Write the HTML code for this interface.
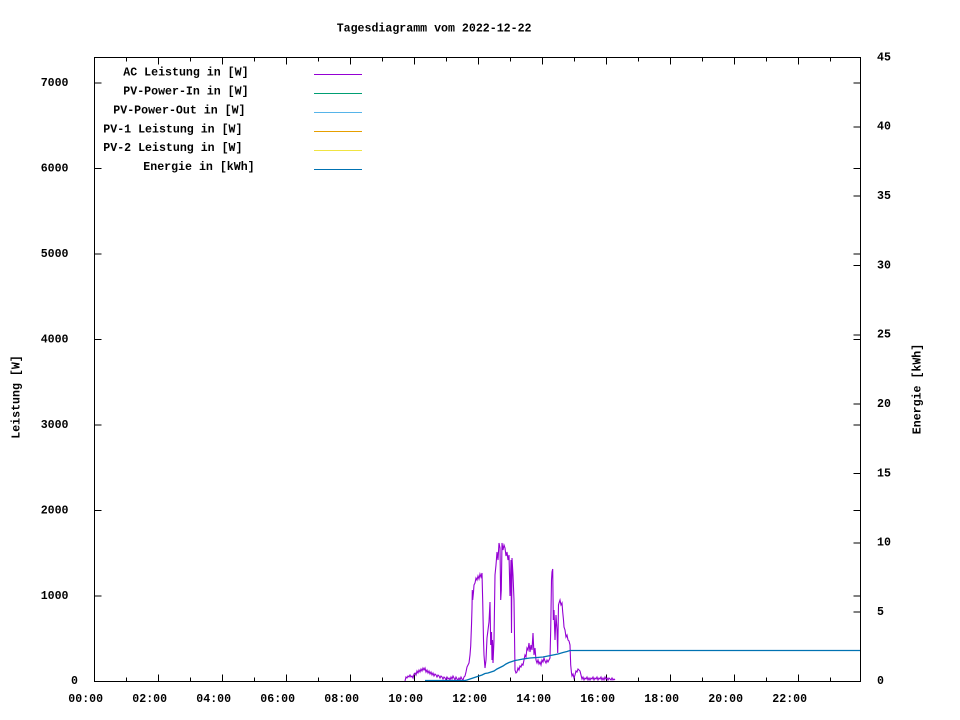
<!DOCTYPE html>
<html><head><meta charset="utf-8"><style>
html,body{margin:0;padding:0;background:#fff;}
svg{display:block;}
text{font-family:"Liberation Mono",monospace;font-weight:bold;font-size:11.6px;fill:#000;}
</style></head><body>
<svg width="960" height="720" viewBox="0 0 960 720" xmlns="http://www.w3.org/2000/svg">
<rect x="0" y="0" width="960" height="720" fill="#fff"/>
<text x="336.7" y="31.5">Tagesdiagramm vom 2022-12-22</text>

<!-- ticks -->
<g stroke="#000" stroke-width="1" shape-rendering="crispEdges" fill="none">
<!-- left y ticks + right mirror -->
<path d="M94.5 596h7M94.5 510.5h7M94.5 425h7M94.5 339.6h7M94.5 254.1h7M94.5 168.6h7M94.5 83.1h7"/>
<path d="M860.5 596h-7M860.5 510.5h-7M860.5 425h-7M860.5 339.6h-7M860.5 254.1h-7M860.5 168.6h-7M860.5 83.1h-7"/>
<!-- y2 ticks -->
<path d="M860.5 612.2h-7M860.5 542.8h-7M860.5 473.5h-7M860.5 404.2h-7M860.5 334.8h-7M860.5 265.5h-7M860.5 196.2h-7M860.5 126.8h-7"/>
<!-- x major ticks bottom/top -->
<path d="M158.5 681.5v-7M222.5 681.5v-7M286.5 681.5v-7M350.5 681.5v-7M414.5 681.5v-7M478.5 681.5v-7M542.5 681.5v-7M606.5 681.5v-7M670.5 681.5v-7M734.5 681.5v-7M798.5 681.5v-7"/>
<path d="M158.5 57.5v7M222.5 57.5v7M286.5 57.5v7M350.5 57.5v7M414.5 57.5v7M478.5 57.5v7M542.5 57.5v7M606.5 57.5v7M670.5 57.5v7M734.5 57.5v7M798.5 57.5v7"/>
<!-- x minor ticks -->
<path d="M126.5 681.5v-4M190.5 681.5v-4M254.5 681.5v-4M318.5 681.5v-4M382.5 681.5v-4M446.5 681.5v-4M510.5 681.5v-4M574.5 681.5v-4M638.5 681.5v-4M702.5 681.5v-4M766.5 681.5v-4M830.5 681.5v-4"/>
<path d="M126.5 57.5v4M190.5 57.5v4M254.5 57.5v4M318.5 57.5v4M382.5 57.5v4M446.5 57.5v4M510.5 57.5v4M574.5 57.5v4M638.5 57.5v4M702.5 57.5v4M766.5 57.5v4M830.5 57.5v4"/>
</g>

<!-- left labels -->
<text x="71" y="684">0</text>
<text x="40.7" y="599">1000</text>
<text x="40.7" y="513.5">2000</text>
<text x="40.7" y="428">3000</text>
<text x="40.7" y="342.6">4000</text>
<text x="40.7" y="257.1">5000</text>
<text x="40.7" y="171.6">6000</text>
<text x="40.7" y="86.1">7000</text>

<!-- right labels -->
<text x="877" y="684">0</text>
<text x="877" y="615">5</text>
<text x="877" y="545.6">10</text>
<text x="877" y="476.3">15</text>
<text x="877" y="407">20</text>
<text x="877" y="337.6">25</text>
<text x="877" y="268.3">30</text>
<text x="877" y="199">35</text>
<text x="877" y="129.6">40</text>
<text x="877" y="60.3">45</text>

<!-- x labels -->
<text x="68.3" y="702">00:00</text>
<text x="132.3" y="702">02:00</text>
<text x="196.3" y="702">04:00</text>
<text x="260.3" y="702">06:00</text>
<text x="324.3" y="702">08:00</text>
<text x="388.3" y="702">10:00</text>
<text x="452.3" y="702">12:00</text>
<text x="516.3" y="702">14:00</text>
<text x="580.3" y="702">16:00</text>
<text x="644.3" y="702">18:00</text>
<text x="708.3" y="702">20:00</text>
<text x="772.3" y="702">22:00</text>

<!-- axis titles -->
<text transform="translate(19.5,397) rotate(-90)" text-anchor="middle">Leistung [W]</text>
<text transform="translate(920.5,389) rotate(-90)" text-anchor="middle">Energie [kWh]</text>

<!-- legend -->
<text x="123.3" y="75.7">AC Leistung in [W]</text>
<text x="123.3" y="94.6">PV-Power-In in [W]</text>
<text x="113.3" y="113.4">PV-Power-Out in [W]</text>
<text x="103.3" y="132.3">PV-1 Leistung in [W]</text>
<text x="103.3" y="151.1">PV-2 Leistung in [W]</text>
<text x="143.3" y="170">Energie in [kWh]</text>
<g stroke-width="1" shape-rendering="crispEdges">
<path d="M314 74.5h48" stroke="#9400d3"/>
<path d="M314 93.5h48" stroke="#009e73"/>
<path d="M314 112.5h48" stroke="#56b4e9"/>
<path d="M314 131.5h48" stroke="#e69f00"/>
<path d="M314 150.5h48" stroke="#f0e442"/>
<path d="M314 169.5h48" stroke="#0072b2"/>
</g>

<!-- AC Leistung -->
<polyline fill="none" stroke="#9400d3" stroke-width="1.1" stroke-linejoin="miter" points="405,681 406,677 407,678 408,676 409,677 410,675 411,677 412,676 413,678 414,674 415,673 416,675 417,671 418,673 419,670 420,672 421,669 422,671 423,668 424,670 425,668 426,672 427,670 428,673 429,671 430,674 431,672 432,675 433,673 434,676 435,674 436,675 437,677 438,675 439,676 440,678 441,676 442,677 443,679 444,677 445,678 446,680 447,677 448,679 449,678 450,680 451,677 452,679 453,676 454,678 455,680 456,677 457,679 458,680 459,678 460,680 461,677 462,679 463,680 464,677 465,676 466,672 467,667 468,665 469,663 470,655 470.7,646 471.5,625 472,608 472.3,590 472.7,600 473.5,592 474,585 475,583 476,578 477,580 478,576 479,579 480,574 481,577 482,573 482.7,601 483.5,640 484,655 485,668 486,660 487,638 488,630 489,622 490,602 490.7,645 491.5,632 492,660 492.5,640 493,663 494,640 495,575 496,565 497,552 498,560 499,543 500,548 500.7,600 501.3,590 502,543 503,550 504,545 505,548 506,556 507,552 508,560 509,555 510,596 511,560 511.5,633 512,558 513,575 514,600 515,670 516,673 517,672 518,668 519,670 520,666 521,667 522,664 523,665 524,660 525,655 526,657 527,648 528,650 529,643 530,652 531,645 532,650 533,633 534,655 535,648 536,660 537,663 538,660 539,664 540,662 541,665 542,660 543,662 544,658 545,661 546,663 547,660 548,662 549,660 550,658 550.7,630 551.5,580 552,572 552.7,569 553.3,620 554,610 555,640 556,615 557,630 557.7,653 558.5,605 559,603 560,600 561,605 562,603 562.7,612 563.5,620 564,627 565,630 566,637 567,635 568,640 569,641 570,645 570.7,665 571.5,673 572,676 573,674 574,678 575,675 576,671 577,672 578,669 579,670 580,671 581,675 582,679 583,677 584,680 585,678 586,679 587,677 588,680 589,678 590,680 591,678 592,679 593,677 594,680 595,678 596,679 597,677 598,680 599,678 600,679 601,677 602,680 603,678 604,680 605,677 606,679 607,678 608,680 609,678 610,679 611,680 612,678 613,680 614,679 615,680"/>

<!-- Energie -->
<polyline fill="none" stroke="#0072b2" stroke-width="1.3" points="425,680.5 465,680.5 467,680 470,679 473,678 476,677 479,676 482,675 485,673.5 488,673 491,672 494,671 497,669 500,667.5 503,666 506,664 509,662.5 512,661.5 515,660.5 518,660 523,659 530,658 537,657.5 543,657 548,656 553,655 558,654 563,652.5 567,651.5 570,650.5 860,650.5"/>

<!-- border -->
<rect x="94.5" y="57.5" width="766" height="624" fill="none" stroke="#000" stroke-width="1" shape-rendering="crispEdges"/>
</svg>
</body></html>
